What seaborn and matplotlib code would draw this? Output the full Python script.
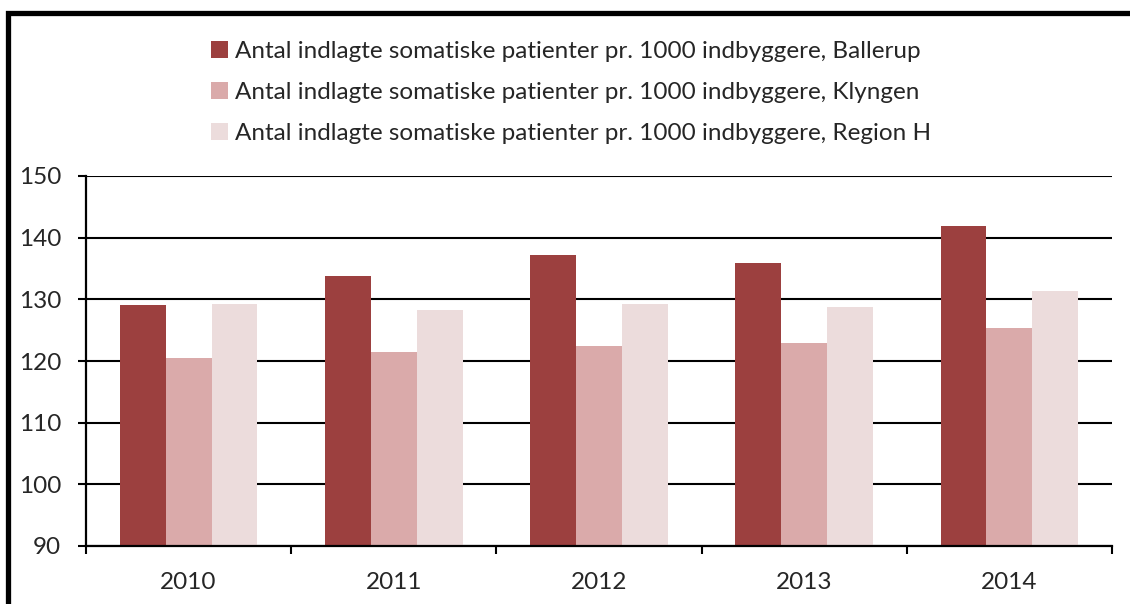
import pandas as pd
import seaborn as sns
import matplotlib.pyplot as plt
from matplotlib.patches import Rectangle

# --- data ---
years = ['2010', '2011', '2012', '2013', '2014']
ballerup = [129.1, 133.8, 137.2, 135.9, 141.9]
klyngen = [120.5, 121.5, 122.4, 122.9, 125.4]
region_h = [129.2, 128.3, 129.2, 128.8, 131.4]
labels = ['Antal indlagte somatiske patienter pr. 1000 indbyggere, Ballerup',
          'Antal indlagte somatiske patienter pr. 1000 indbyggere, Klyngen',
          'Antal indlagte somatiske patienter pr. 1000 indbyggere, Region H']
colors = ['#9C403F', '#DAAAAA', '#ECDCDC']

df = pd.DataFrame({
    'year': years * 3,
    'value': ballerup + klyngen + region_h,
    'series': [labels[0]] * 5 + [labels[1]] * 5 + [labels[2]] * 5,
})

sns.set_style('white')
plt.rcParams['font.family'] = ['Lato', 'DejaVu Sans']

fig = plt.figure(figsize=(11.3, 6.04), dpi=100)
ax = fig.add_axes([86 / 1130, 58 / 604, 1026 / 1130, 370 / 604])

sns.barplot(data=df, x='year', y='value', hue='series', palette=colors,
            width=0.67, gap=0, saturation=1, linewidth=0, ax=ax, legend=True)

ax.set_ylim(90, 150)
ax.set_xlim(-0.5, 4.5)
ax.set_yticks(range(90, 151, 10))
ax.set_xlabel('')
ax.set_ylabel('')

# gridlines in black
ax.grid(axis='y', color='black', linewidth=1.5)
ax.set_axisbelow(True)

for s in ['top', 'right']:
    ax.spines[s].set_visible(False)
for s in ['left', 'bottom']:
    ax.spines[s].set_color('black')
    ax.spines[s].set_linewidth(1.6)

ax.tick_params(axis='y', which='major', left=True, length=6, width=1.5,
               color='black', labelsize=17.5, pad=12)
ax.tick_params(axis='x', which='major', bottom=False, labelsize=17.5, pad=15)
ax.set_xticks([-0.5, 0.5, 1.5, 2.5, 3.5, 4.5], minor=True)
ax.tick_params(axis='x', which='minor', bottom=True, length=6, width=1.5,
               color='black')

# legend above the plot
handles, lbls = ax.get_legend_handles_labels()
ax.legend_.remove()
fig.legend(handles, lbls, loc='upper left', bbox_to_anchor=(199 / 1130, 1 - 29 / 604),
           frameon=False, fontsize=17.5, handlelength=0.7, handleheight=0.7,
           handletextpad=0.3, labelspacing=0.82, borderpad=0)

# outer frame (left and top edge visible)
fig.patches.append(Rectangle((7.5 / 1130, -0.1), 1.2, 1 - 12.5 / 604 + 0.1,
                             transform=fig.transFigure, fill=False,
                             edgecolor='black', linewidth=3.8))

fig.savefig('out.png', dpi=100)
